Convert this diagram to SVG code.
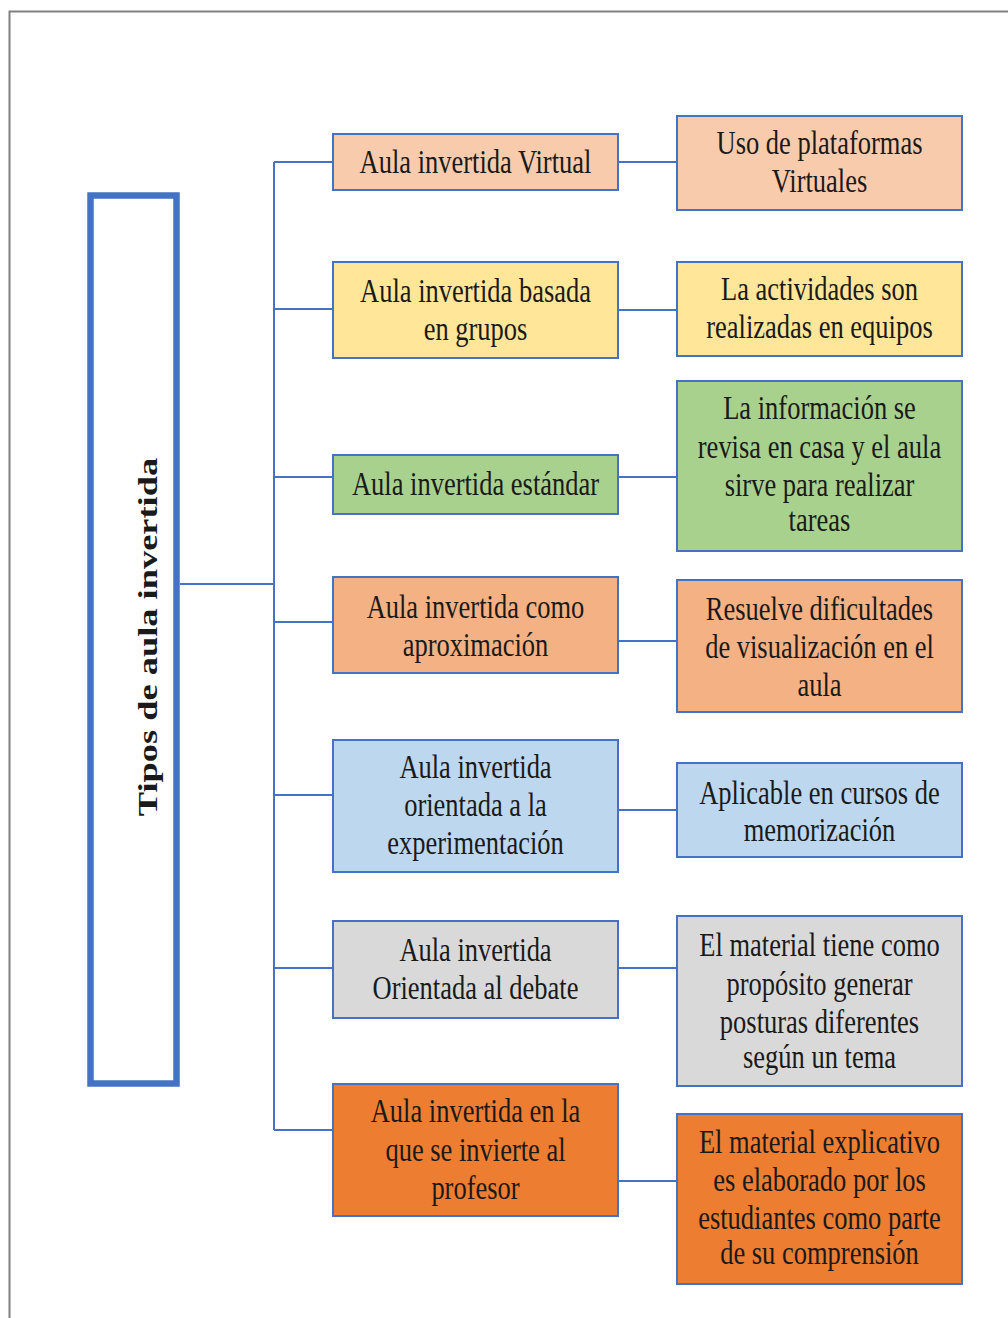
<svg xmlns="http://www.w3.org/2000/svg" width="1008" height="1318" viewBox="0 0 1008 1318">
<style>
.box{stroke:#4472C4;stroke-width:2}
.t{font-family:"Liberation Serif","Times New Roman",serif;font-size:26.5px;fill:#1a1a1a;text-anchor:middle}
.conn{fill:none;stroke:#4472C4;stroke-width:2}
</style>
<rect width="1008" height="1318" fill="#fff"/>
<path d="M9.5,1318 V11.5 H1008" fill="none" stroke="#808080" stroke-width="2"/>

<g id="connectors" class="conn">
<path d="M180,584 H274"/>
<path d="M274,162 V1130"/>
<path d="M274,162 H333 M274,309 H333 M274,477 H333 M274,622 H333 M274,795 H333 M274,968 H333 M274,1130 H333"/>
<path d="M618,162 H677 M618,310 H677 M618,477 H677 M618,641 H677 M618,810 H677 M618,968 H677 M618,1181 H677"/>
</g>

<g id="title">
<rect x="90.5" y="195.5" width="86" height="888" fill="#fff" stroke="#4472C4" stroke-width="6.5"/>
<text transform="translate(157,637) scale(1,1.3) rotate(-90)" style="font-family:'Liberation Serif','Times New Roman',serif;font-size:28px;font-weight:bold;text-anchor:middle;fill:#1a1a1a">Tipos de aula invertida</text>
</g>

<g id="l1"><rect class="box" x="333" y="134" width="285" height="56" fill="#F8CBAD"/>
<text class="t" transform="translate(475.5,173) scale(1,1.3)">Aula invertida Virtual</text></g>
<g id="r1"><rect class="box" x="677" y="116" width="285" height="94" fill="#F8CBAD"/>
<text class="t" transform="translate(819.5,154) scale(1,1.3)">Uso de plataformas</text>
<text class="t" transform="translate(819.5,192) scale(1,1.3)">Virtuales</text></g>

<g id="l2"><rect class="box" x="333" y="262" width="285" height="96" fill="#FFE699"/>
<text class="t" transform="translate(475.5,302) scale(1,1.3)">Aula invertida basada</text>
<text class="t" transform="translate(475.5,340) scale(1,1.3)">en grupos</text></g>
<g id="r2"><rect class="box" x="677" y="262" width="285" height="94" fill="#FFE699"/>
<text class="t" transform="translate(819.5,300) scale(1,1.3)">La actividades son</text>
<text class="t" transform="translate(819.5,338) scale(1,1.3)">realizadas en equipos</text></g>

<g id="l3"><rect class="box" x="333" y="455" width="285" height="59" fill="#A9D18E"/>
<text class="t" transform="translate(475.5,495) scale(1,1.3)">Aula invertida estándar</text></g>
<g id="r3"><rect class="box" x="677" y="381" width="285" height="170" fill="#A9D18E"/>
<text class="t" transform="translate(819.5,419) scale(1,1.3)">La información se</text>
<text class="t" transform="translate(819.5,458) scale(1,1.3)">revisa en casa y el aula</text>
<text class="t" transform="translate(819.5,496) scale(1,1.3)">sirve para realizar</text>
<text class="t" transform="translate(819.5,531) scale(1,1.3)">tareas</text></g>

<g id="l4"><rect class="box" x="333" y="577" width="285" height="96" fill="#F4B183"/>
<text class="t" transform="translate(475.5,618) scale(1,1.3)">Aula invertida como</text>
<text class="t" transform="translate(475.5,656) scale(1,1.3)">aproximación</text></g>
<g id="r4"><rect class="box" x="677" y="580" width="285" height="132" fill="#F4B183"/>
<text class="t" transform="translate(819.5,620) scale(1,1.3)">Resuelve dificultades</text>
<text class="t" transform="translate(819.5,658) scale(1,1.3)">de visualización en el</text>
<text class="t" transform="translate(819.5,696) scale(1,1.3)">aula</text></g>

<g id="l5"><rect class="box" x="333" y="740" width="285" height="132" fill="#BDD7EE"/>
<text class="t" transform="translate(475.5,778) scale(1,1.3)">Aula invertida</text>
<text class="t" transform="translate(475.5,816) scale(1,1.3)">orientada a la</text>
<text class="t" transform="translate(475.5,854) scale(1,1.3)">experimentación</text></g>
<g id="r5"><rect class="box" x="677" y="763" width="285" height="94" fill="#BDD7EE"/>
<text class="t" transform="translate(819.5,804) scale(1,1.3)">Aplicable en cursos de</text>
<text class="t" transform="translate(819.5,841) scale(1,1.3)">memorización</text></g>

<g id="l6"><rect class="box" x="333" y="921" width="285" height="97" fill="#D9D9D9"/>
<text class="t" transform="translate(475.5,961) scale(1,1.3)">Aula invertida</text>
<text class="t" transform="translate(475.5,999) scale(1,1.3)">Orientada al debate</text></g>
<g id="r6"><rect class="box" x="677" y="916" width="285" height="170" fill="#D9D9D9"/>
<text class="t" transform="translate(819.5,956) scale(1,1.3)">El material tiene como</text>
<text class="t" transform="translate(819.5,995) scale(1,1.3)">propósito generar</text>
<text class="t" transform="translate(819.5,1033) scale(1,1.3)">posturas diferentes</text>
<text class="t" transform="translate(819.5,1068) scale(1,1.3)">según un tema</text></g>

<g id="l7"><rect class="box" x="333" y="1084" width="285" height="132" fill="#ED7D31"/>
<text class="t" transform="translate(475.5,1122) scale(1,1.3)">Aula invertida en la</text>
<text class="t" transform="translate(475.5,1161) scale(1,1.3)">que se invierte al</text>
<text class="t" transform="translate(475.5,1199) scale(1,1.3)">profesor</text></g>
<g id="r7"><rect class="box" x="677" y="1114" width="285" height="170" fill="#ED7D31"/>
<text class="t" transform="translate(819.5,1153) scale(1,1.3)">El material explicativo</text>
<text class="t" transform="translate(819.5,1191) scale(1,1.3)">es elaborado por los</text>
<text class="t" transform="translate(819.5,1229) scale(1,1.3)">estudiantes como parte</text>
<text class="t" transform="translate(819.5,1264) scale(1,1.3)">de su comprensión</text></g>
</svg>
